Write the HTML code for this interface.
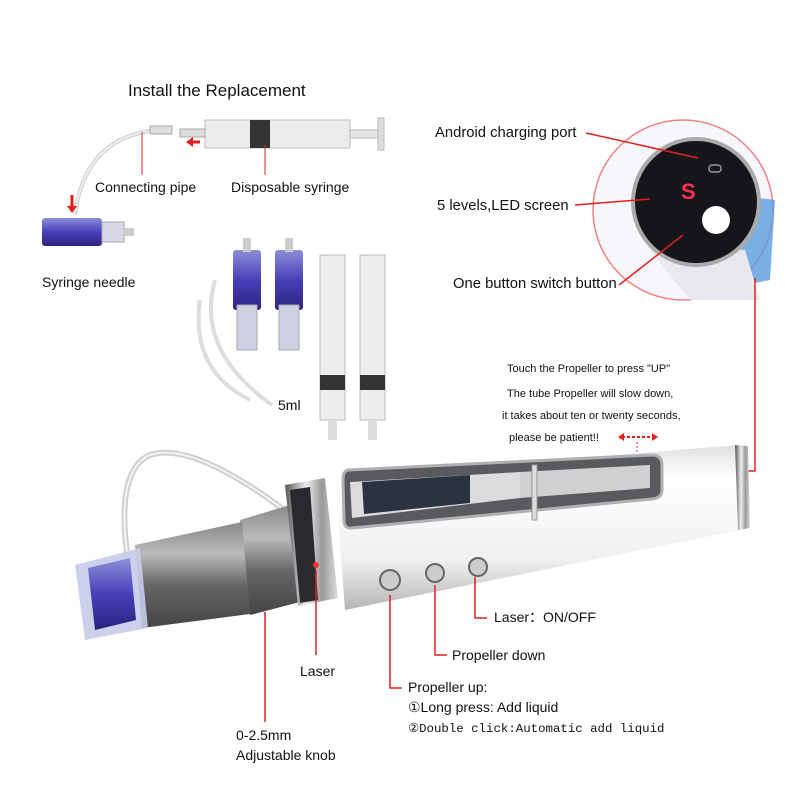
<!DOCTYPE html>
<html><head><meta charset="utf-8"><style>
body{margin:0;background:#fff}
svg{display:block}
text{font-family:"Liberation Sans",sans-serif}
</style></head><body>
<svg width="800" height="800" viewBox="0 0 800 800" xmlns="http://www.w3.org/2000/svg">
<defs>
<linearGradient id="wb" x1="0" y1="0" x2="0" y2="1">
<stop offset="0" stop-color="#e0e0e0"/><stop offset="0.2" stop-color="#fff"/><stop offset="0.7" stop-color="#f0f0f0"/><stop offset="1" stop-color="#b5b5b5"/></linearGradient>
<linearGradient id="kb" x1="0" y1="0" x2="0" y2="1">
<stop offset="0" stop-color="#888"/><stop offset="0.3" stop-color="#bbb"/><stop offset="0.6" stop-color="#666"/><stop offset="1" stop-color="#444"/></linearGradient>
<linearGradient id="sv" x1="0" y1="0" x2="1" y2="0">
<stop offset="0" stop-color="#555"/><stop offset="0.4" stop-color="#eee"/><stop offset="0.7" stop-color="#999"/><stop offset="1" stop-color="#ddd"/></linearGradient>
<linearGradient id="pu" x1="0" y1="0" x2="0" y2="1">
<stop offset="0" stop-color="#8b8fd8"/><stop offset="0.5" stop-color="#4a3fb8"/><stop offset="1" stop-color="#2a2380"/></linearGradient>
</defs>
<rect width="800" height="800" fill="#fff"/>
<text x="128" y="96" font-size="17" fill="#111">Install the Replacement</text>
<!-- top syringe -->
<rect x="205" y="120" width="145" height="28" fill="#ececec" stroke="#bbb"/>
<rect x="250" y="120" width="20" height="28" fill="#333"/>
<rect x="350" y="130" width="28" height="8" fill="#e4e4e4" stroke="#bbb"/>
<rect x="378" y="118" width="6" height="32" fill="#ddd" stroke="#bbb"/>
<rect x="180" y="129" width="25" height="8" fill="#ddd" stroke="#aaa"/>
<path d="M160 130 Q85 135 75 215" fill="none" stroke="#ccc" stroke-width="4"/>
<path d="M160 130 Q85 135 75 215" fill="none" stroke="#eee" stroke-width="2"/>
<rect x="150" y="126" width="22" height="8" fill="#ddd" stroke="#aaa"/>
<path d="M200 142 L188 142" stroke="#e02020" stroke-width="3"/><path d="M186 142 l7 -5 v10z" fill="#e02020"/>
<line x1="142" y1="132" x2="142" y2="175" stroke="#e02020"/>
<line x1="265" y1="145" x2="265" y2="175" stroke="#e02020"/>
<g fill="#111" font-size="14">
<text x="95" y="192">Connecting pipe</text>
<text x="231" y="192">Disposable syringe</text>
<text x="42" y="287">Syringe needle</text>
</g>
<path d="M72 195 v12" stroke="#e02020" stroke-width="3"/><path d="M67 206 h10 l-5 7z" fill="#e02020"/>
<rect x="42" y="218" width="60" height="28" rx="3" fill="url(#pu)"/>
<rect x="102" y="222" width="22" height="20" fill="#d8d8e8" stroke="#aaa"/>
<rect x="124" y="228" width="10" height="8" fill="#ccc"/>

<!-- middle accessories -->
<rect x="233" y="250" width="28" height="60" rx="3" fill="url(#pu)"/>
<rect x="237" y="305" width="20" height="45" fill="#d0d0e4" stroke="#aaa"/>
<rect x="243" y="238" width="8" height="14" fill="#ccc"/>
<rect x="275" y="250" width="28" height="60" rx="3" fill="url(#pu)"/>
<rect x="279" y="305" width="20" height="45" fill="#d0d0e4" stroke="#aaa"/>
<rect x="285" y="238" width="8" height="14" fill="#ccc"/>
<path d="M215 280 Q195 350 272 405" fill="none" stroke="#ddd" stroke-width="4"/>
<path d="M200 300 Q190 370 250 400" fill="none" stroke="#ddd" stroke-width="4"/>
<rect x="320" y="255" width="25" height="165" fill="#ededed" stroke="#bbb"/>
<rect x="320" y="375" width="25" height="15" fill="#333"/>
<rect x="360" y="255" width="25" height="165" fill="#ededed" stroke="#bbb"/>
<rect x="360" y="375" width="25" height="15" fill="#333"/>
<rect x="328" y="420" width="9" height="20" fill="#ddd"/>
<rect x="368" y="420" width="9" height="20" fill="#ddd"/>
<text x="278" y="410" font-size="14" fill="#111">5ml</text>

<!-- circle inset -->
<circle cx="683" cy="210" r="90" fill="#f7f7fb" stroke="#f08080" stroke-width="1.5"/>
<path d="M735 195 L775 200 L770 280 L745 285z" fill="#5b9be0" opacity="0.8"/>
<path d="M650 250 L745 250 L760 300 L690 300z" fill="#e8e8ee"/>
<circle cx="696" cy="202" r="65" fill="#aaa"/>
<circle cx="696" cy="202" r="61" fill="#15161a"/>
<circle cx="716" cy="220" r="14" fill="#fff"/>
<rect x="709" y="165" width="12" height="7" rx="3" fill="none" stroke="#999" stroke-width="1.5"/>
<text x="681" y="199" font-size="22" style="fill:#ff3050" font-weight="bold">S</text>

<g fill="#111" font-size="14.8">
<text x="435" y="137">Android charging port</text>
<text x="437" y="210">5 levels,LED screen</text>
<text x="453" y="288">One button switch button</text>
</g>
<line x1="586" y1="133" x2="698" y2="158" stroke="#e02020" stroke-width="1.5"/>
<line x1="575" y1="205" x2="650" y2="199" stroke="#e02020" stroke-width="1.5"/>
<line x1="619" y1="285" x2="683" y2="235" stroke="#e02020" stroke-width="1.5"/>
<polyline points="755,278 755,471 740,471" fill="none" stroke="#e02020" stroke-width="1.5"/>

<g fill="#111" font-size="11">
<text x="507" y="372">Touch the Propeller to press "UP"</text>
<text x="507" y="397">The tube Propeller will slow down,</text>
<text x="502" y="419">it takes about ten or twenty seconds,</text>
<text x="509" y="441">please be patient!!</text>
</g>
<path d="M622 437 h32" stroke="#e02020" stroke-width="2" stroke-dasharray="3,2"/>
<path d="M618 437 l6 -4 v8z M658 437 l-6 -4 v8z" fill="#e02020"/>
<line x1="637" y1="442" x2="637" y2="460" stroke="#e02020" stroke-dasharray="2,2"/>

<!-- tube -->
<path d="M128 560 Q115 470 150 455 Q195 440 300 522" fill="none" stroke="#d0d0d0" stroke-width="6"/>
<path d="M128 560 Q115 470 150 455 Q195 440 300 522" fill="none" stroke="#f4f4f4" stroke-width="2"/>

<!-- pen -->
<polygon points="335,478 738,445 740,530 345,610" fill="url(#wb)"/>
<polygon points="735,445 748,446 750,528 738,530" fill="url(#sv)"/>
<path d="M348 470 L652 455 Q662 455 662 465 L662 490 Q662 498 652 499 L352 528 Q344 529 344 520 L343 480 Q343 471 348 470z" fill="#5a5a5e" stroke="#b0b0b0" stroke-width="3"/>
<polygon points="350,482 520,472 520,498 352,518" fill="#dcdcdc"/>
<polygon points="362,482 470,475 470,503 364,514" fill="#2b3240"/>
<polygon points="520,472 650,465 650,488 520,498" fill="#d0d0d0"/>
<rect x="532" y="465" width="5" height="55" fill="#ddd" stroke="#999"/>
<polygon points="240,520 290,505 300,602 250,615" fill="url(#kb)"/>
<polygon points="135,545 242,522 250,614 142,628" fill="url(#kb)"/>
<polygon points="285,485 325,478 338,598 298,606" fill="url(#sv)"/>
<polygon points="290,490 310,487 318,600 300,603" fill="#2a2a2e"/>
<circle cx="316" cy="565" r="3" fill="#f33"/>
<polygon points="75,565 140,548 148,628 85,640" fill="#c8cbe8" opacity="0.9"/>
<polygon points="88,568 130,558 136,620 95,630" fill="url(#pu)"/>
<circle cx="390" cy="580" r="10" fill="#ccc" stroke="#666" stroke-width="2"/>
<circle cx="435" cy="573" r="9" fill="#ccc" stroke="#666" stroke-width="2"/>
<circle cx="478" cy="567" r="9" fill="#ccc" stroke="#666" stroke-width="2"/>

<!-- bottom callouts -->
<polyline points="475,577 475,618 487,618" fill="none" stroke="#e02020" stroke-width="1.5"/>
<polyline points="435,585 435,655 447,655" fill="none" stroke="#e02020" stroke-width="1.5"/>
<polyline points="390,595 390,688 402,688" fill="none" stroke="#e02020" stroke-width="1.5"/>
<line x1="316" y1="570" x2="316" y2="655" stroke="#e02020" stroke-width="1.5"/>
<line x1="265" y1="612" x2="265" y2="722" stroke="#e02020" stroke-width="1.5"/>
<g fill="#111" font-size="14">
<text x="494" y="622">Laser：ON/OFF</text>
<text x="452" y="660">Propeller down</text>
<text x="408" y="692">Propeller up:</text>
<text x="408" y="712">①Long press: Add liquid</text>
<text x="408" y="732" font-size="12.4" style="font-family:'Liberation Mono',monospace">②Double click:Automatic add liquid</text>
<text x="300" y="676">Laser</text>
<text x="236" y="740">0-2.5mm</text>
<text x="236" y="760">Adjustable knob</text>
</g>
</svg>
</body></html>
